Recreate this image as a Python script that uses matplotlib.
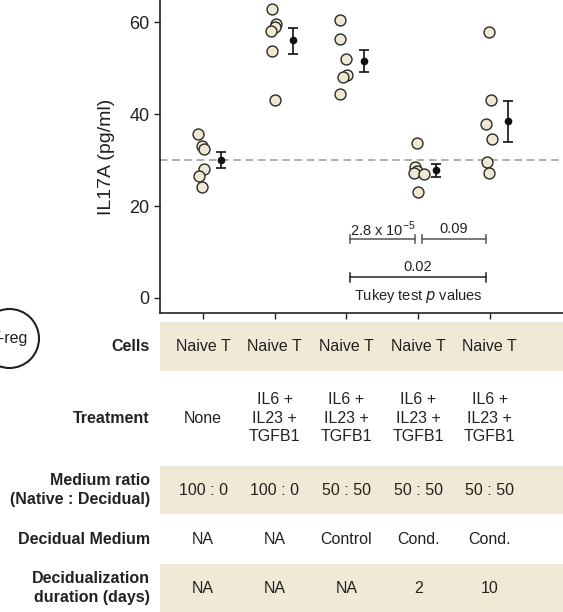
import numpy as np
import matplotlib.pyplot as plt
from matplotlib.patches import Rectangle, Circle

plt.rcParams['font.family'] = ['Liberation Sans', 'DejaVu Sans']

# IL17A values per condition (pg/ml)
vals = [
    [35.7, 33.0, 32.5, 28.1, 26.6, 24.2],
    [62.9, 59.6, 59.0, 58.2, 53.8, 43.1],
    [60.5, 56.4, 52.0, 48.5, 48.1, 44.4],
    [33.8, 28.6, 27.7, 27.1, 27.0, 23.0],
    [57.9, 43.1, 37.9, 34.6, 29.7, 27.2],
]
jit = [
    [-0.07, -0.02, 0.01, 0.01, -0.05, -0.02],
    [-0.04, 0.02, 0.01, -0.05, -0.04, 0.01],
    [-0.09, -0.09, -0.01, 0.01, -0.05, -0.09],
    [-0.02, -0.04, -0.02, -0.06, 0.08, 0.0],
    [-0.01, 0.02, -0.05, 0.03, -0.04, -0.01],
]
means = [30.0, 56.1, 51.6, 27.85, 38.5]
err_hi = [31.8, 58.8, 54.0, 29.2, 42.9]
err_lo = [28.2, 53.1, 49.2, 26.4, 33.9]
baseline = 30.0

row_names = ['Cells', 'Treatment', 'Medium ratio\n(Native : Decidual)',
             'Decidual Medium', 'Decidualization\nduration (days)']
cells = ['Naive T'] * 5
treatment = ['None'] + ['IL6 +\nIL23 +\nTGFB1'] * 4
ratio = ['100 : 0', '100 : 0', '50 : 50', '50 : 50', '50 : 50']
medium = ['NA', 'NA', 'Control', 'Cond.', 'Cond.']
duration = ['NA', 'NA', 'NA', '2', '10']
table_rows = [cells, treatment, ratio, medium, duration]

cream = '#EFE9D5'
W, H = 563, 612
fig = plt.figure(figsize=(W / 100, H / 100), dpi=100)

# main plot
ax = fig.add_axes([160 / W, (H - 313) / H, (W - 160) / W, 313 / H])
xlim = (-0.6, 5.02)
ax.set_xlim(*xlim)
ax.set_ylim(-3.3, 64.9)

ax.axhline(baseline, color='#999999', ls=(0, (5, 3)), lw=1.1, zorder=1)
for i, v in enumerate(vals):
    ax.scatter(i + np.array(jit[i]), v, s=62, facecolor='#EFE9D3',
               edgecolor='#2a2a2a', linewidth=1.0, zorder=3)
xs = np.arange(5) + 0.25
ax.errorbar(xs, means,
            yerr=[np.array(means) - np.array(err_lo), np.array(err_hi) - np.array(means)],
            fmt='o', color='#111111', ms=4.5, capsize=3.5, elinewidth=1.2,
            capthick=1.2, zorder=4)

# Tukey brackets
def bracket(x0, x1, y, col):
    ax.plot([x0, x1], [y, y], color=col, lw=1.1)
    for xx in (x0, x1):
        ax.plot([xx, xx], [y - 0.9, y + 0.9], color=col, lw=1.1)

bracket(2.05, 2.95, 12.8, '#555555')
bracket(3.05, 3.95, 12.8, '#555555')
bracket(2.05, 3.95, 4.45, '#222222')
ax.text(2.5, 15.0, r'2.8 x 10$^{\mathregular{-5}}$', ha='center', va='center',
        fontsize=10.5, color='#222222')
ax.text(3.5, 15.0, '0.09', ha='center', va='center', fontsize=10.5, color='#222222')
ax.text(3.0, 6.8, '0.02', ha='center', va='center', fontsize=10.5, color='#222222')
ax.text(3.0, 0.4, 'Tukey test $p$ values', ha='center', va='center',
        fontsize=10.5, color='#222222')

ax.set_yticks([0, 20, 40, 60])
ax.set_xticks(range(5))
ax.set_xticklabels([])
ax.tick_params(axis='y', labelsize=13, length=4, width=1, colors='#222222')
ax.tick_params(axis='x', length=4, width=1, colors='#222222')
ax.set_ylabel('IL17A (pg/ml)', fontsize=14, color='#222222', labelpad=10)
for s in ['top', 'right']:
    ax.spines[s].set_visible(False)
for s in ['left', 'bottom']:
    ax.spines[s].set_linewidth(1.2)
    ax.spines[s].set_color('#222222')

# table below, y in pixel units from the top
tb = fig.add_axes([160 / W, 0, (W - 160) / W, 290 / H])
tb.set_xlim(*xlim)
tb.set_ylim(612, 322)
tb.axis('off')

bands = [(322, 370.7), (370.7, 465.7), (465.7, 514.3), (514.3, 564), (564, 612)]
for r, (y0, y1) in enumerate(bands):
    if r % 2 == 0:
        tb.add_patch(Rectangle((xlim[0], y0), xlim[1] - xlim[0], y1 - y0,
                               facecolor=cream, edgecolor='none'))
    yc = (y0 + y1) / 2
    tb.text(-0.74, yc, row_names[r], ha='right', va='center', fontsize=11.5,
            fontweight='bold', color='#222222', linespacing=1.35, clip_on=False)
    for i, t in enumerate(table_rows[r]):
        tb.text(i, yc, t, ha='center', va='center', fontsize=11.5,
                color='#222222', linespacing=1.3)

# T-reg circle, cut at the left edge
fig.patches.append(Circle((9.5, H - 338.5), 29.5, transform=None, fill=False,
                          edgecolor='#222222', linewidth=1.5))
fig.text(28 / W, (H - 338) / H, 'T-reg', ha='right', va='center', fontsize=11.5,
         color='#222222')

fig.savefig('out.png', dpi=100)
